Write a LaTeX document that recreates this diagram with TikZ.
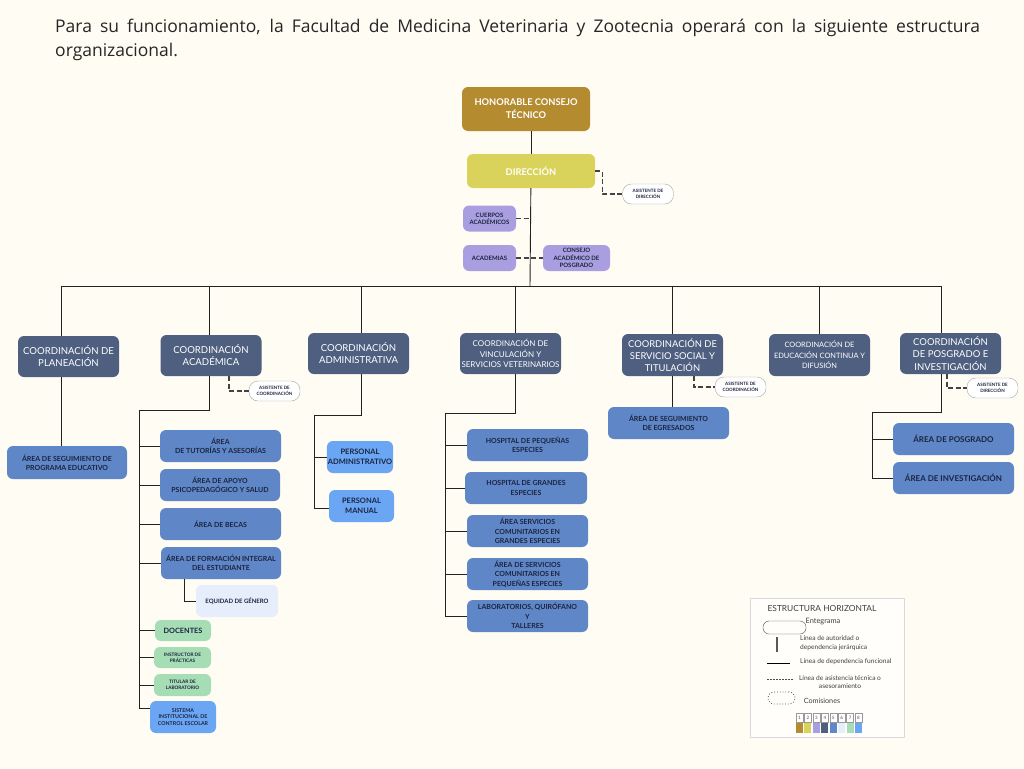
\documentclass[tikz,border=0pt]{standalone}
\usepackage{fontspec}
\setmainfont{Lato}
\newfontfamily\titlefont{Open Sans}
\usetikzlibrary{shapes.geometric}

\definecolor{cBg}{HTML}{FFFCF4}
\definecolor{cGold}{HTML}{B48C2F}
\definecolor{cYel}{HTML}{D9D35B}
\definecolor{cLav}{HTML}{A99FE0}
\definecolor{cSlate}{HTML}{4E5F7F}
\definecolor{cBlue}{HTML}{5F86C6}
\definecolor{cPale}{HTML}{E6EEFB}
\definecolor{cGreen}{HTML}{A6DDB4}
\definecolor{cBright}{HTML}{6AA6F4}
\definecolor{cNavy}{HTML}{1B2440}
\definecolor{cLine}{HTML}{222222}

\newcommand{\bxsize}[2]{\fontsize{#1}{#2}\selectfont}

\tikzstyle{box} = [rounded corners=6pt, inner sep=1pt, align=center]
\tikzstyle{jefe} = [box, fill=cGold, text=white, minimum width=128pt, minimum height=44pt, font=\bfseries\bxsize{9.3}{13}]
\tikzstyle{direc} = [box, fill=cYel, text=white, minimum width=128pt, minimum height=34pt, font=\bfseries\bxsize{9.3}{11}]
\tikzstyle{apoyo} = [box, fill=cLav, text=cNavy, minimum width=53pt, minimum height=26pt, font=\bfseries\bxsize{6}{7.3}]
\tikzstyle{coordbox} = [box, fill=cSlate, text=white, minimum width=101pt, minimum height=41pt, font=\bxsize{9.6}{12}]
\tikzstyle{areabox} = [box, fill=cBlue, text=cNavy, minimum width=121pt, minimum height=32pt, font=\bfseries\bxsize{7}{9.3}]
\tikzstyle{palebox} = [box, fill=cPale, text=cNavy, minimum width=82pt, minimum height=32pt, font=\bfseries\bxsize{6}{7.5}]
\tikzstyle{greenbox} = [box, fill=cGreen, text=cNavy, minimum width=57pt, minimum height=21pt, font=\bfseries\bxsize{4.7}{6}]
\tikzstyle{brightbox} = [box, fill=cBright, text=cNavy, minimum width=66pt, minimum height=32pt, font=\bfseries\bxsize{7.5}{9.5}]
\tikzstyle{asisbox} = [rounded corners=9pt, draw=gray!70, fill=white, minimum width=51pt, minimum height=20pt, inner sep=0pt, align=center, text=cNavy, font=\bfseries\bxsize{4.5}{5.6}]
\tikzstyle{solidline} = [cLine, line width=0.9pt]
\tikzstyle{dashline} = [cLine!85, line width=1.2pt, dash pattern=on 5pt off 2.5pt]
\tikzstyle{legtext} = [inner sep=0pt, text=black!75, font=\bxsize{6.6}{8.5}]

\begin{document}
\begin{tikzpicture}[x=1pt,y=-1pt]
  \fill[cBg] (0,0) rectangle (1024,768);
  \useasboundingbox (0,0) rectangle (1024,768);

  % encabezado
  \node[anchor=north west, inner sep=0pt, text width=925pt, align=justify, text=black!85,
        font=\titlefont\bxsize{17.5}{23.5}] (TITLE) at (55,19)
    {Para su funcionamiento, la Facultad de Medicina Veterinaria y Zootecnia operará con la siguiente estructura\linebreak organizacional.};

  % direccion
  \node[jefe] (HCT) at (526,109) {HONORABLE CONSEJO\\TÉCNICO};
  \node[direc] (DIR) at (531,171) {DIRECCIÓN};
  \node[asisbox] (ADIR) at (648,194) {ASISTENTE DE\\DIRECCIÓN};
  \node[apoyo] (CUER) at (489.5,218.5) {CUERPOS\\ACADÉMICOS};
  \node[apoyo] (ACAD) at (489.5,258) {ACADEMIAS};
  \node[apoyo, minimum width=67pt] (CAP) at (576.5,258) {CONSEJO\\ACADÉMICO DE\\POSGRADO};

  % coordinaciones
  \node[coordbox] (CPLA) at (68.5,356.5) {COORDINACIÓN DE\\PLANEACIÓN};
  \node[coordbox] (CACA) at (211,355.5) {COORDINACIÓN\\ACADÉMICA};
  \node[coordbox] (CADM) at (358.5,353.5) {COORDINACIÓN\\ADMINISTRATIVA};
  \node[coordbox, font=\bxsize{8}{10.3}] (CVIN) at (510.5,353.5) {COORDINACIÓN DE\\VINCULACIÓN Y\\SERVICIOS VETERINARIOS};
  \node[coordbox, minimum height=42pt, font=\bxsize{9.4}{12}] (CSER) at (672.5,355) {COORDINACIÓN DE\\SERVICIO SOCIAL Y\\TITULACIÓN};
  \node[coordbox, minimum height=42pt, font=\bxsize{7.4}{10.5}] (CEDU) at (819.5,355) {COORDINACIÓN DE\\EDUCACIÓN CONTINUA Y\\DIFUSIÓN};
  \node[coordbox, font=\bxsize{9.5}{12.5}] (CPOS) at (950.5,353.5) {COORDINACIÓN\\DE POSGRADO E\\INVESTIGACIÓN};

  \node[asisbox] (ASCA) at (274.5,391) {ASISTENTE DE\\COORDINACIÓN};
  \node[asisbox] (ASSS) at (740.5,387) {ASISTENTE DE\\COORDINACIÓN};
  \node[asisbox] (ASPO) at (992.5,388) {ASISTENTE DE\\DIRECCIÓN};

  % areas
  \node[areabox, minimum width=120pt, minimum height=33pt] (ASPE) at (67,462.5) {ÁREA DE SEGUIMIENTO DE\\PROGRAMA EDUCATIVO};

  \node[areabox] (TUT) at (220.5,446) {ÁREA\\DE TUTORÍAS Y ASESORÍAS};
  \node[areabox, minimum width=120pt] (APO) at (220,485) {ÁREA  DE APOYO\\PSICOPEDAGÓGICO Y SALUD};
  \node[areabox] (BEC) at (220.5,524) {ÁREA DE BECAS};
  \node[areabox, minimum width=120pt] (FOR) at (221,563) {ÁREA DE FORMACIÓN INTEGRAL\\DEL ESTUDIANTE};
  \node[palebox] (EQU) at (237,601) {EQUIDAD DE GÉNERO};
  \node[greenbox, minimum width=56pt, font=\bfseries\bxsize{7.3}{8.5}] (DOC) at (183,630.5) {DOCENTES};
  \node[greenbox] (INS) at (182.5,657.5) {INSTRUCTOR DE\\PRÁCTICAS};
  \node[greenbox, minimum height=22pt] (TIT) at (182.5,685) {TITULAR DE\\LABORATORIO};
  \node[brightbox, font=\bfseries\bxsize{5.3}{6.6}] (SIS) at (183,717) {SISTEMA\\INSTITUCIONAL DE\\CONTROL ESCOLAR};

  \node[brightbox] (PADM) at (360,457) {PERSONAL\\ADMINISTRATIVO};
  \node[brightbox, minimum width=65pt] (PMAN) at (361.5,506) {PERSONAL\\MANUAL};

  \node[areabox] (HPE) at (527.5,445) {HOSPITAL DE PEQUEÑAS\\ESPECIES};
  \node[areabox, minimum width=122pt] (HGE) at (526,488) {HOSPITAL DE GRANDES\\ESPECIES};
  \node[areabox] (ASCG) at (527.5,531) {ÁREA SERVICIOS\\COMUNITARIOS EN\\GRANDES ESPECIES};
  \node[areabox] (ASCP) at (527.5,574) {ÁREA DE SERVICIOS\\COMUNITARIOS EN\\PEQUEÑAS ESPECIES};
  \node[areabox] (LAB) at (527.5,616) {LABORATORIOS, QUIRÓFANO\\Y\\TALLERES};

  \node[areabox] (AEGR) at (668.5,423) {ÁREA DE SEGUIMIENTO\\DE EGRESADOS};

  \node[areabox, font=\bfseries\bxsize{8}{10}] (APOS) at (953.5,439) {ÁREA DE POSGRADO};
  \node[areabox, font=\bfseries\bxsize{8}{10}] (AINV) at (953.5,478) {ÁREA DE INVESTIGACIÓN};

  % lineas de autoridad
  \coordinate (bus) at (530,286);
  \coordinate (acaB) at (139,410);
  \coordinate (admB) at (314,415);
  \coordinate (vinB) at (445,413);
  \coordinate (posB) at (872,412);

  \draw[solidline] (HCT.south -| DIR) -- (DIR);
  \draw[solidline] (DIR) -- (bus);
  \draw[solidline] ([xshift=-7.5pt]CPLA.north) |- (bus);
  \draw[solidline] ([xshift=-2pt]CACA.north) |- (bus);
  \draw[solidline] ([xshift=2.5pt]CADM.north) |- (bus);
  \draw[solidline] ([xshift=4.5pt]CVIN.north) |- (bus);
  \draw[solidline] (CSER.north) |- (bus);
  \draw[solidline] (CEDU.north) |- (bus);
  \draw[solidline] ([xshift=-9.5pt]CPOS.north) |- (bus);

  \draw[solidline] ([xshift=-7.5pt]CPLA.south) -- ([xshift=-6pt]ASPE.north);

  \draw[solidline] ([xshift=-2pt]CACA.south) |- (acaB);
  \draw[solidline] (acaB) |- ([yshift=9pt]SIS.west);
  \foreach \n in {TUT,APO,BEC,FOR,DOC,INS,TIT}
    \draw[solidline] (acaB |- \n) -- (\n);
  \draw[solidline] ([xshift=-37pt]FOR.south) |- (EQU);

  \draw[solidline] ([xshift=2.5pt]CADM.south) |- (admB);
  \draw[solidline] (admB) |- ([yshift=-2pt]PMAN.west);
  \draw[solidline] (admB |- PADM) -- (PADM);

  \draw[solidline] ([xshift=4.5pt]CVIN.south) |- (vinB);
  \draw[solidline] (vinB) -- (vinB |- LAB);
  \foreach \n in {HPE,HGE,ASCG,ASCP,LAB}
    \draw[solidline] (vinB |- \n) -- (\n);

  \draw[solidline] (CSER.south) -- (CSER.south |- AEGR.north);

  \draw[solidline] ([xshift=-9.5pt]CPOS.south) |- (posB);
  \draw[solidline] (posB) -- (posB |- AINV);
  \foreach \n in {APOS,AINV}
    \draw[solidline] (posB |- \n) -- (\n);

  % lineas de asesoramiento
  \draw[dashline] (DIR.east) -- ++(7,0) |- (ADIR);
  \draw[dashline] (CUER) -- (CUER -| bus);
  \draw[dashline] (ACAD) -- (CAP);
  \draw[dashline] ([xshift=18pt]CACA.south) |- (ASCA);
  \draw[dashline] ([xshift=21.5pt]CSER.south) |- (ASSS);
  \draw[dashline] ([xshift=-3.5pt]CPOS.south) |- (ASPO);

  % estructura horizontal
  \draw[black!15, fill=white!60!cBg] (750,598) rectangle (904,737);
  \node[legtext, font=\bxsize{8.4}{10}] (LTIT) at (822,608) {ESTRUCTURA HORIZONTAL};
  \node[draw=black!70, rounded corners=6pt, minimum width=43pt, minimum height=13pt, inner sep=0pt] (LENT) at (784.5,627.5) {};
  \node[legtext, font=\bxsize{7.4}{8.5}] (TENT) at (823,622) {Entegrama};
  \coordinate (LA1) at (777,637);
  \coordinate (LA2) at (777,652);
  \draw[black!65, line width=1.4pt] (LA1) -- (LA2);
  \node[legtext, anchor=west, align=left] (TAUT) at (800,643) {Línea de autoridad o\\dependencia jerárquica};
  \coordinate (LF1) at (767,663);
  \coordinate (LF2) at (790,663);
  \draw[black, line width=1pt] (LF1) -- (LF2);
  \node[legtext, anchor=west] (TFUN) at (800,662) {Línea de dependencia funcional};
  \coordinate (LD1) at (767,679);
  \coordinate (LD2) at (793,679);
  \draw[black!70, line width=0.9pt, dash pattern=on 2pt off 1pt] (LD1) -- (LD2);
  \node[legtext, align=center] (TASE) at (840,682) {Línea de asistencia técnica o\\asesoramiento};
  \node[draw=black!70, dotted, thick, rounded corners=6pt, minimum width=27pt, minimum height=12pt, inner sep=0pt] (LCOM) at (781.5,698) {};
  \node[legtext, font=\bxsize{7.2}{8}] (TCOM) at (822,701) {Comisiones};
  \foreach \c [count=\k] in {cGold,cYel,cLav,cSlate,cBlue,cPale,cGreen,cBright} {
    \node[draw=black!40, fill=white, minimum width=7pt, minimum height=9pt, inner sep=0pt,
          font=\bxsize{4.5}{5}, text=black!70] (num\k) at ({791.1+8.43*\k},717.5) {\k};
    \node[fill=\c, minimum width=7pt, minimum height=10pt, inner sep=0pt] (sw\k) at ({791.1+8.43*\k},727.5) {};
  }
\end{tikzpicture}
\end{document}
